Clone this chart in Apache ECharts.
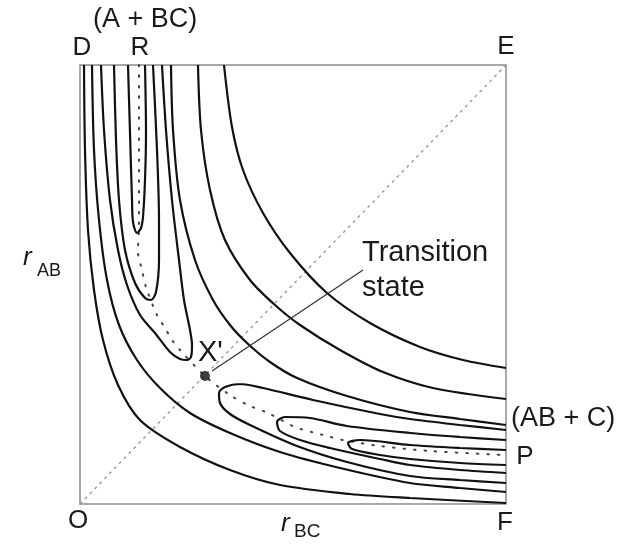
<!DOCTYPE html>
<html><head><meta charset="utf-8">
<script src="https://cdn.jsdelivr.net/npm/echarts@6/dist/echarts.min.js"></script>
<style>html,body{margin:0;padding:0;background:#fff}#c{width:619px;height:548px}</style>
</head><body><div id="c"></div>
<script>
// axis extents (arbitrary units of r_BC, r_AB)
const xMax = 426, yMax = 439;

// contours in the (A + BC) reactant valley (U shapes opening to the top)
const contourR1 = [[48,439],[50,371],[52,304],[53,282],[57,271],[61,276],[63,287],[65,324],[66,371],[65,439]];
const contourR2 = [[34,439],[36,364],[39,304],[45,254],[55,221],[65,206],[71,204],[76,212],[79,244],[79,284],[77,354],[73,439]];
const contourR3 = [[21,439],[24,374],[30,304],[38,254],[47,219],[60,189],[75,171],[90,152],[100,145],[107,144],[111,147],[112,159],[110,174],[104,204],[99,244],[92,304],[86,374],[82,439]];

// contours in the (AB + C) product valley (U shapes opening to the right)
const contourP1 = [[426,54],[380,56],[330,59],[280,64],[268,61],[272,55],[300,49],[330,45],[380,41],[426,39]];
const contourP2 = [[426,64],[380,67],[330,71],[267,78],[230,86],[205,87],[197,82],[200,73],[220,64],[250,56],[300,45],[330,39],[380,34],[426,31]];
const contourP3 = [[426,74],[380,79],[330,85],[300,90],[233,104],[183,116],[160,120],[145,117],[139,111],[140,101],[150,90],[170,79],[217,58],[267,42],[330,28],[380,24],[426,21]];

// contours above the saddle: inner (repulsive wall) and outer (plateau) branches
const contourIn4 = [[12,439],[14,354],[19,284],[27,224],[39,179],[57,144],[80,116],[110,91],[150,71],[200,52],[260,36],[330,21],[380,16],[426,12]];
const contourIn5 = [[4,439],[5,354],[8,274],[14,214],[23,164],[38,119],[60,84],[100,57],[150,34],[200,19],[270,10],[330,6],[426,1]];
const contourOut4 = [[91,439],[93,374],[100,304],[115,244],[133,204],[150,179],[167,161],[190,142],[217,126],[267,108],[330,92],[380,85],[426,79]];
const contourOut5 = [[118,439],[121,374],[130,314],[145,264],[170,224],[195,199],[220,179],[260,154],[303,132],[353,116],[426,105]];
const contourOut6 = [[144,439],[152,377],[163,334],[183,291],[210,251],[247,211],[290,181],[340,157],[383,144],[426,136]];

// reaction path (dotted) through the saddle point
const reactionPath = [[59,439],[59,330],[59,279],[58,252],[62,234],[66,217],[77,189],[85,176],[92,164],[100,154],[125,128],[150,109],[170,98],[188,91],[215,77],[243,69],[263,64],[300,58],[350,53],[426,49]];
const diagonal = [[0,0],[426,439]];
const saddlePoint = [[125,128]];
const leaderLine = [[132,133],[283,234]];

// text labels
const cornerLabels = ['D', 'E', 'O', 'F'];
const valleyLabels = ['(A + BC)', 'R', '(AB + C)', 'P'];
const tsLabel = ['Transition', 'state'];
const saddleLabel = "X'";
const axisNames = [['r', 'AB'], ['r', 'BC']];

const chart = echarts.init(document.getElementById('c'));
const contours = [contourR1, contourR2, contourR3, contourP1, contourP2, contourP3,
  contourIn4, contourIn5, contourOut4, contourOut5, contourOut6];

const series = [];
series.push({type:'line', data:diagonal, showSymbol:false, silent:true,
  lineStyle:{color:'#9a9a9a', width:1.4, type:[3,4]}, z:1});
contours.forEach(d => series.push({type:'line', data:d, smooth:0.3, showSymbol:false, silent:true,
  lineStyle:{color:'#111', width:2.2}, z:3}));
series.push({type:'line', data:reactionPath, smooth:0.3, showSymbol:false, silent:true,
  lineStyle:{color:'#444', width:2, type:[1.5,9], cap:'round'}, z:2});
series.push({type:'line', data:leaderLine, showSymbol:false, silent:true,
  lineStyle:{color:'#333', width:1.2}, z:4});
series.push({type:'scatter', data:saddlePoint, symbolSize:10, itemStyle:{color:'#111'}, silent:true, z:5});

const F = '"Liberation Sans", Arial, sans-serif';
function txt(s, x, y, size, align, extra) {
  return Object.assign({type:'text', x:x, y:y, silent:true,
    style:{text:s, font: size + 'px ' + F, fill:'#1a1a1a', align:align || 'center', verticalAlign:'middle'}}, extra || {});
}
const graphic = [
  txt(valleyLabels[0], 93, 20, 27, 'left'),
  txt(cornerLabels[0], 82, 48, 26),
  txt(valleyLabels[1], 140, 48, 26),
  txt(cornerLabels[1], 506, 47, 26),
  txt(cornerLabels[2], 78, 521, 26),
  txt(cornerLabels[3], 505, 523, 26),
  txt(valleyLabels[2], 511, 419, 27, 'left'),
  txt(valleyLabels[3], 525, 457, 26),
  txt(tsLabel[0], 362, 253, 29, 'left'),
  txt(tsLabel[1], 362, 288, 29, 'left'),
  txt(saddleLabel, 198, 353, 29, 'left'),
  {type:'text', x:23, y:258, silent:true, style:{text:axisNames[0][0], font:'italic 26px ' + F, fill:'#1a1a1a', align:'left', verticalAlign:'middle'}},
  txt(axisNames[0][1], 37, 271, 18, 'left'),
  {type:'text', x:281, y:524, silent:true, style:{text:axisNames[1][0], font:'italic 26px ' + F, fill:'#1a1a1a', align:'left', verticalAlign:'middle'}},
  txt(axisNames[1][1], 294, 532, 19, 'left')
];

chart.setOption({
  animation:false,
  grid:{left:80, top:65, width:426, height:439, show:true, borderColor:'#8c8c8c', borderWidth:1.5, backgroundColor:'transparent'},
  xAxis:{type:'value', min:0, max:xMax, show:false},
  yAxis:{type:'value', min:0, max:yMax, show:false},
  series: series,
  graphic: graphic
});
</script></body></html>
